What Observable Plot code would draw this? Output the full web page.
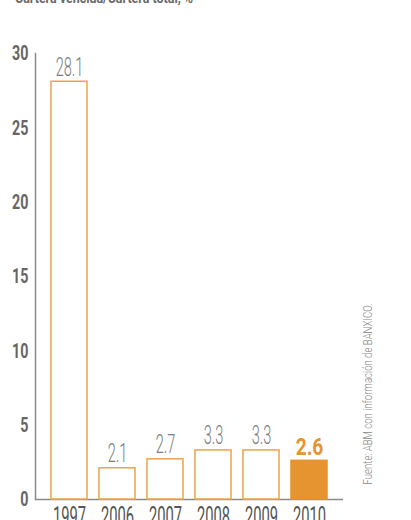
<!DOCTYPE html>
<html><head><meta charset="utf-8">
<script src="https://cdn.jsdelivr.net/npm/d3@7"></script>
<script src="https://cdn.jsdelivr.net/npm/@observablehq/plot@0.6"></script>
<style>
body{margin:0;background:#fff;}
#wrap{position:relative;width:411px;height:520px;overflow:hidden;}
#sub{position:absolute;left:15px;top:-11px;font:bold 15px Roboto, "Liberation Sans", sans-serif;color:#6a6a6a;white-space:nowrap;z-index:2;transform:scaleX(0.83);transform-origin:left top;}
</style></head><body><div id="wrap"><div id="sub">Cartera vencida/Cartera total, %</div></div>
<script>
const years = ["1997", "2006", "2007", "2008", "2009", "2010"];
const values = [28.1, 2.1, 2.7, 3.3, 3.3, 2.6];
const highlightYear = "2010";
const yTicks = [0, 5, 10, 15, 20, 25, 30];
const source = "Fuente: ABM con información de BANXICO.";

const data = years.map((year, i) => ({year, value: values[i]}));
const normal = data.filter(d => d.year !== highlightYear);
const highlight = data.filter(d => d.year === highlightYear);
const ORANGE_LINE = "#EFA24A", ORANGE_FILL = "#E5942F";

const chart = Plot.plot({
  width: 411, height: 520,
  marginTop: 53, marginBottom: 21, marginLeft: 35, marginRight: 68,
  style: {background: "white", fontFamily: "Roboto, 'Liberation Sans', sans-serif", overflow: "visible"},
  x: {domain: years, paddingInner: 0.25, paddingOuter: 0.3, label: null},
  y: {domain: [0, 30], label: null},
  marks: [
    Plot.frame({anchor: "left", stroke: "#8a8a8a", strokeWidth: 1.5}),
    Plot.ruleY([0], {stroke: "#8a8a8a", strokeWidth: 1.5}),
    Plot.barY(normal, {x: "year", y: "value", fill: "white", stroke: ORANGE_LINE, strokeWidth: 1.5}),
    Plot.barY(highlight, {x: "year", y: "value", fill: ORANGE_FILL, stroke: ORANGE_FILL, strokeWidth: 1.5}),
    Plot.axisY(yTicks, {tickSize: 0, tickPadding: 7, fontSize: 21, fontWeight: "bold", fill: "#666", label: null}),
    Plot.axisX({tickSize: 0, tickPadding: 8, fontSize: 25, fill: "#555", label: null}),
    Plot.text(normal, {x: "year", y: "value", text: d => d.value.toFixed(1), lineAnchor: "bottom", dy: -6, fontSize: 26, fontWeight: 300, fill: "#7d7d7d", ariaDescription: "value-labels"}),
    Plot.text(highlight, {x: "year", y: "value", text: d => d.value.toFixed(1), lineAnchor: "bottom", dy: -6, fontSize: 24, fontWeight: "bold", fill: ORANGE_FILL, ariaDescription: "hl-labels"}),
    Plot.text([source], {frameAnchor: "bottom-right", rotate: -90, textAnchor: "start", dx: 28, dy: -15, fontSize: 12, fontWeight: 300, fill: "#888", ariaDescription: "source"})
  ]
});

function condense(sel, s) {
  chart.querySelectorAll(sel).forEach(t => {
    const tr = t.getAttribute("transform") || "";
    const x = t.getAttribute("x");
    if (x != null) t.setAttribute("x", (+x) / s);
    t.setAttribute("transform", tr + ` scale(${s},1)`);
  });
}
condense('g[aria-description="value-labels"] text', 0.56);
condense('g[aria-description="hl-labels"] text', 0.8);
condense('g[aria-label="y-axis tick label"] text', 0.68);
condense('g[aria-label="x-axis tick label"] text', 0.59);
condense('g[aria-description="source"] text', 0.8);

document.getElementById("wrap").appendChild(chart);
</script></body></html>
